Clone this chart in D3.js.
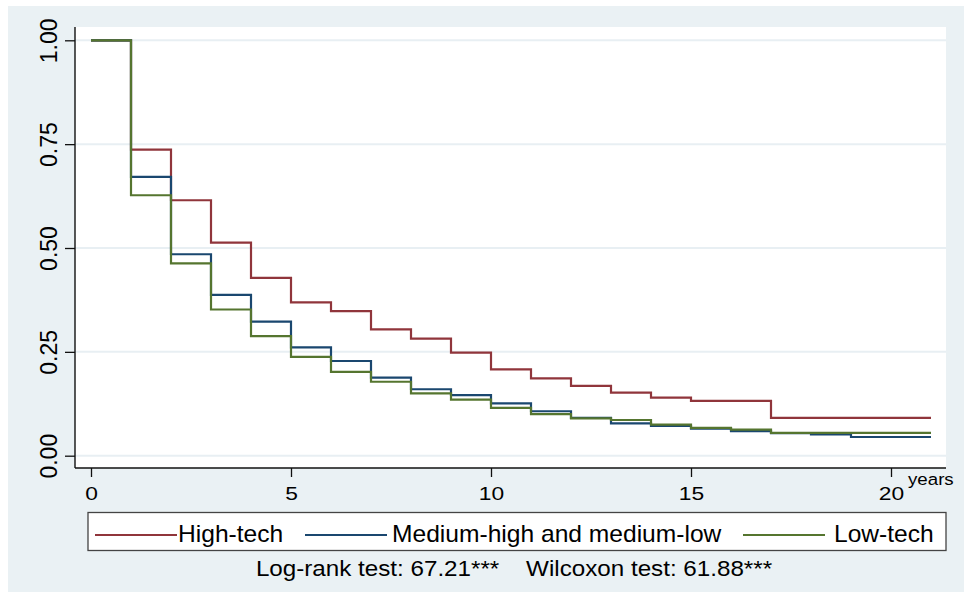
<!DOCTYPE html>
<html>
<head>
<meta charset="utf-8">
<script src="https://cdn.jsdelivr.net/npm/d3@7/dist/d3.min.js"></script>
<style>
  html, body { margin: 0; padding: 0; background: #ffffff; }
  svg { display: block; font-family: "Liberation Sans", Arial, sans-serif; }
</style>
</head>
<body>
<svg id="chart" width="964" height="592"></svg>
<script>
// ---- data ----
// survival at the start of each yearly interval [t, t+1); last interval runs to year 21
const years = [0,1,2,3,4,5,6,7,8,9,10,11,12,13,14,15,16,17,18,19,20];
const endYear = 21;
const highTech = [1.000,0.737,0.615,0.513,0.428,0.369,0.348,0.304,0.282,0.248,0.208,0.186,0.168,0.152,0.140,0.132,0.132,0.091,0.091,0.091,0.091];
const mediumTech = [1.000,0.671,0.485,0.387,0.323,0.261,0.228,0.188,0.160,0.146,0.126,0.107,0.091,0.078,0.072,0.065,0.059,0.054,0.051,0.045,0.045];
const lowTech = [1.000,0.627,0.463,0.352,0.288,0.238,0.202,0.178,0.150,0.135,0.115,0.100,0.090,0.086,0.075,0.067,0.063,0.055,0.055,0.055,0.055];
const seriesNames = ["High-tech", "Medium-high and medium-low", "Low-tech"];
const seriesColors = ["#90353b", "#1a476f", "#55752f"];
const yTicks = [0, 0.25, 0.5, 0.75, 1];
const xTicks = [0, 5, 10, 15, 20];
const xUnitLabel = "years";
const noteText = "Log-rank test: 67.21***    Wilcoxon test: 61.88***";

// ---- layout ----
const W = 964, H = 592;
const bg = {x: 8, y: 6, w: W - 8, h: H - 6};
const plot = {left: 75, top: 27, right: 946, bottom: 468};
const svg = d3.select("#chart");

const x = d3.scaleLinear().domain([0, 20]).range([91, 891]);
const y = d3.scaleLinear().domain([0, 1]).range([455.7, 40.3]);

// background
svg.append("rect").attr("x", bg.x).attr("y", bg.y).attr("width", bg.w).attr("height", bg.h)
  .attr("fill", "#eaf1f4");
svg.append("rect").attr("x", plot.left).attr("y", plot.top)
  .attr("width", plot.right - plot.left).attr("height", plot.bottom - plot.top)
  .attr("fill", "#ffffff");

// gridlines
svg.append("g").selectAll("line").data(yTicks).join("line")
  .attr("x1", plot.left).attr("x2", plot.right)
  .attr("y1", d => y(d)).attr("y2", d => y(d))
  .attr("stroke", "#e8eff3").attr("stroke-width", 2);

// curves
const seriesData = [highTech, mediumTech, lowTech].map(vals => {
  const pts = years.map((t, i) => [t, vals[i]]);
  pts.push([endYear, vals[vals.length - 1]]);
  return pts;
});
const line = d3.line().x(d => x(d[0])).y(d => y(d[1])).curve(d3.curveStepAfter);
svg.append("g").selectAll("path").data(seriesData).join("path")
  .attr("d", line)
  .attr("fill", "none")
  .attr("stroke", (d, i) => seriesColors[i])
  .attr("stroke-width", 2.2)
  .attr("stroke-linejoin", "miter");

// axis lines
svg.append("line").attr("x1", plot.left).attr("x2", plot.left)
  .attr("y1", plot.top).attr("y2", plot.bottom)
  .attr("stroke", "#111").attr("stroke-width", 1.4);
svg.append("line").attr("x1", plot.left).attr("x2", plot.right)
  .attr("y1", plot.bottom).attr("y2", plot.bottom)
  .attr("stroke", "#111").attr("stroke-width", 1.4);

// y axis
const yAxis = svg.append("g").attr("transform", `translate(${plot.left},0)`)
  .call(d3.axisLeft(y).tickValues(yTicks).tickFormat(d3.format(".2f")).tickSize(10).tickSizeOuter(0));
yAxis.select(".domain").remove();
yAxis.selectAll(".tick line").attr("stroke", "#111").attr("stroke-width", 1.3);
yAxis.selectAll(".tick text")
  .attr("x", null).attr("dy", null)
  .attr("transform", "translate(-18,0) rotate(-90)")
  .attr("text-anchor", "middle")
  .attr("fill", "#000")
  .style("font-size", "23px")
  .style("font-family", "'Liberation Sans', Arial, sans-serif");

// x axis
const xAxis = svg.append("g").attr("transform", `translate(0,${plot.bottom})`)
  .call(d3.axisBottom(x).tickValues(xTicks).tickFormat(d3.format("d")).tickSize(9).tickSizeOuter(0));
xAxis.select(".domain").remove();
xAxis.selectAll(".tick line").attr("stroke", "#111").attr("stroke-width", 1.3);
xAxis.selectAll(".tick text")
  .attr("y", null).attr("dy", null)
  .attr("transform", "translate(0,31.5) scale(1.2,1)")
  .attr("text-anchor", "middle")
  .attr("fill", "#000")
  .style("font-size", "19px")
  .style("font-family", "'Liberation Sans', Arial, sans-serif");

svg.append("text")
  .attr("transform", "translate(908,485) scale(1.1,1)")
  .attr("fill", "#000").style("font-size", "17px")
  .text(xUnitLabel);

// legend
const legend = {x: 88, y: 512.5, w: 858, h: 38};
svg.append("rect").attr("x", legend.x).attr("y", legend.y).attr("width", legend.w).attr("height", legend.h)
  .attr("fill", "#fff").attr("stroke", "#444").attr("stroke-width", 1.3);
const legendKeys = [
  {x1: 95, x2: 177, tx: 178},
  {x1: 305, x2: 387, tx: 392},
  {x1: 743, x2: 825, tx: 834}
];
const lg = svg.append("g");
legendKeys.forEach((k, i) => {
  lg.append("line").attr("x1", k.x1).attr("x2", k.x2).attr("y1", 535).attr("y2", 535)
    .attr("stroke", seriesColors[i]).attr("stroke-width", 2);
  lg.append("text").attr("transform", `translate(${k.tx},541.5) scale(1.07,1)`)
    .attr("fill", "#000").style("font-size", "23px")
    .text(seriesNames[i]);
});

// note
svg.append("text")
  .attr("transform", "translate(514,576) scale(1.1,1)")
  .attr("text-anchor", "middle")
  .attr("fill", "#000").style("font-size", "22px")
  .style("white-space", "pre")
  .text(noteText);
</script>
</body>
</html>
